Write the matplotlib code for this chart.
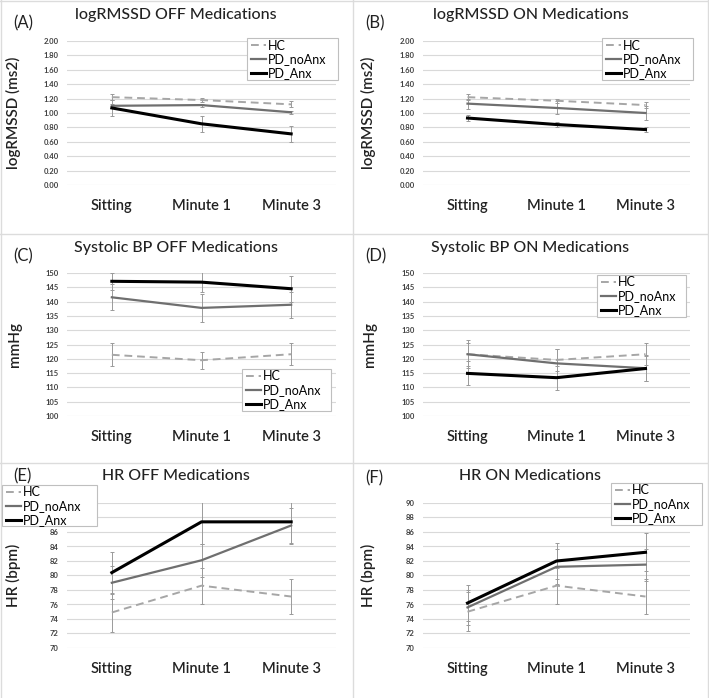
import numpy as np
import matplotlib.pyplot as plt
from matplotlib.lines import Line2D
from matplotlib.patches import Rectangle

plt.rcParams['font.family'] = ['Lato', 'DejaVu Sans']

W, H = 709, 698

categories = ['Sitting', 'Minute 1', 'Minute 3']
groups = ['HC', 'PD_noAnx', 'PD_Anx']

# logRMSSD OFF
rmssd_off_hc = [1.22, 1.18, 1.12]
rmssd_off_hc_err = [0.04, 0.03, 0.04]
rmssd_off_noanx = [1.10, 1.11, 1.01]
rmssd_off_noanx_err = [0.03, 0.02, 0.02]
rmssd_off_anx = [1.07, 0.85, 0.71]
rmssd_off_anx_err = [0.11, 0.11, 0.11]

# logRMSSD ON
rmssd_on_hc = [1.22, 1.17, 1.11]
rmssd_on_hc_err = [0.04, 0.03, 0.04]
rmssd_on_noanx = [1.13, 1.07, 1.00]
rmssd_on_noanx_err = [0.07, 0.09, 0.10]
rmssd_on_anx = [0.93, 0.84, 0.77]
rmssd_on_anx_err = [0.04, 0.04, 0.03]

# Systolic BP OFF
sbp_off_hc = [121.4, 119.5, 121.6]
sbp_off_hc_err = [4.0, 3.0, 3.8]
sbp_off_noanx = [141.5, 137.8, 138.9]
sbp_off_noanx_err = [4.6, 5.0, 4.5]
sbp_off_anx = [147.1, 146.8, 144.5]
sbp_off_anx_err = [3.0, 3.5, 4.5]

# Systolic BP ON
sbp_on_hc = [121.6, 119.6, 121.6]
sbp_on_hc_err = [4.0, 4.0, 3.8]
sbp_on_noanx = [121.6, 118.4, 116.7]
sbp_on_noanx_err = [4.8, 5.0, 4.5]
sbp_on_anx = [114.9, 113.4, 116.6]
sbp_on_anx_err = [4.2, 4.2, 4.5]

# HR OFF
hr_off_hc = [74.9, 78.6, 77.1]
hr_off_hc_err = [2.7, 2.5, 2.4]
hr_off_noanx = [79.0, 82.1, 86.9]
hr_off_noanx_err = [2.3, 2.3, 2.4]
hr_off_anx = [80.4, 87.4, 87.4]
hr_off_anx_err = [2.9, 3.0, 3.0]

# HR ON
hr_on_hc = [75.0, 78.6, 77.1]
hr_on_hc_err = [2.7, 2.5, 2.4]
hr_on_noanx = [75.6, 81.2, 81.5]
hr_on_noanx_err = [2.4, 2.4, 2.2]
hr_on_anx = [76.2, 82.0, 83.2]
hr_on_anx_err = [2.5, 2.5, 2.6]

styles = {
    'HC': dict(color='#a6a6a6', lw=1.4, ls=(0, (4, 2.5))),
    'PD_noAnx': dict(color='#6f6f6f', lw=1.6, ls='-'),
    'PD_Anx': dict(color='#000000', lw=2.2, ls='-'),
}

fig = plt.figure(figsize=(W / 100, H / 100), dpi=100)

# panel separators
grid_col = '#dcdcdc'
fig.add_artist(Line2D([353 / W, 353 / W], [0, 1], color=grid_col, lw=1))
for y in [234, 463]:
    fig.add_artist(Line2D([0, 1], [1 - y / H, 1 - y / H], color=grid_col, lw=1))
fig.add_artist(Line2D([0, 1], [1 - 1 / H, 1 - 1 / H], color=grid_col, lw=1))
fig.add_artist(Line2D([1 / W, 1 / W], [0, 1], color=grid_col, lw=1))
fig.add_artist(Line2D([1 - 1 / W, 1 - 1 / W], [0, 1], color=grid_col, lw=1))


def ftext(x, y, s, **kw):
    fig.text(x / W, 1 - y / H, s, **kw)


def panel(x0, x1, ytop, ybot, ylim, yticks, fmt, series, title, tag, ylabel,
          tag_xy, title_xy, ylabel_x, leg_box, covered=()):
    ax = fig.add_axes([x0 / W, 1 - ybot / H, (x1 - x0) / W, (ybot - ytop) / H])
    xs = np.arange(len(categories)) + 0.5
    for name, vals, errs in series:
        ax.errorbar(xs, vals, yerr=errs, fmt='none', ecolor='#9a9a9a',
                    elinewidth=0.7, capsize=1.5, capthick=0.7, zorder=2)
    handles = []
    for name, vals, errs in series:
        h, = ax.plot(xs, vals, zorder=3, label=name, **styles[name])
        handles.append(h)
    ax.set_xlim(0, 3)
    ax.set_ylim(*ylim)
    ax.set_yticks(yticks)
    # labels sitting under the legend box are not visible anyway
    ax.set_yticklabels(['' if round(v, 2) in covered else fmt.format(v) for v in yticks],
                       fontsize=5.5, fontweight='bold', color='#404040')
    ax.set_xticks(xs)
    ax.set_xticklabels(categories, fontsize=10.5, fontweight='semibold', color='#222222')
    ax.tick_params(axis='both', length=0)
    ax.tick_params(axis='y', pad=6)
    ax.tick_params(axis='x', pad=10)
    ax.grid(axis='y', color='#d9d9d9', lw=0.8)
    ax.set_axisbelow(True)
    for s in ax.spines.values():
        s.set_visible(False)
    ftext(*tag_xy, tag, fontsize=12, ha='left', va='center', color='#222222')
    ftext(*title_xy, title, fontsize=11.5, ha='center', va='center',
          fontweight='medium', color='#222222')
    ftext(ylabel_x, (ytop + ybot) / 2, ylabel, fontsize=11, rotation=90,
          fontweight='semibold', ha='center', va='center', color='#222222')
    # legend box
    bx, by, bw, bh = leg_box
    fig.add_artist(Rectangle((bx / W, 1 - (by + bh) / H), bw / W, bh / H,
                             transform=fig.transFigure, facecolor='white',
                             edgecolor='#bfbfbf', lw=0.8, zorder=4))
    leg = fig.legend(handles=handles, loc='upper left',
                     bbox_to_anchor=((bx + 4) / W, 1 - (by + 1.5) / H),
                     fontsize=9, frameon=False,
                     handlelength=1.2, handletextpad=0.15, borderpad=0.0,
                     labelspacing=0.14, borderaxespad=0)
    leg.set_zorder(5)
    return ax


rm_ticks = np.arange(0, 2.01, 0.2)
bp_ticks = np.arange(100, 151, 5)
hr_ticks = np.arange(70, 91, 2)

panel(67, 336, 41, 185, (0, 2), rm_ticks, '{:.2f}',
      [('HC', rmssd_off_hc, rmssd_off_hc_err),
       ('PD_noAnx', rmssd_off_noanx, rmssd_off_noanx_err),
       ('PD_Anx', rmssd_off_anx, rmssd_off_anx_err)],
      'logRMSSD OFF Medications', '(A)', 'logRMSSD (ms2)',
      (13, 23), (176, 15), 13, (247, 38, 91, 42))

panel(423, 690, 41, 185, (0, 2), rm_ticks, '{:.2f}',
      [('HC', rmssd_on_hc, rmssd_on_hc_err),
       ('PD_noAnx', rmssd_on_noanx, rmssd_on_noanx_err),
       ('PD_Anx', rmssd_on_anx, rmssd_on_anx_err)],
      'logRMSSD ON Medications', '(B)', 'logRMSSD (ms2)',
      (365, 23), (531, 15), 368, (602, 38, 91, 42))

panel(67, 336, 273, 416, (100, 150), bp_ticks, '{:.0f}',
      [('HC', sbp_off_hc, sbp_off_hc_err),
       ('PD_noAnx', sbp_off_noanx, sbp_off_noanx_err),
       ('PD_Anx', sbp_off_anx, sbp_off_anx_err)],
      'Systolic BP OFF Medications', '(C)', 'mmHg',
      (13, 256), (176, 248), 15, (242, 369, 89, 42))

panel(423, 690, 273, 416, (100, 150), bp_ticks, '{:.0f}',
      [('HC', sbp_on_hc, sbp_on_hc_err),
       ('PD_noAnx', sbp_on_noanx, sbp_on_noanx_err),
       ('PD_Anx', sbp_on_anx, sbp_on_anx_err)],
      'Systolic BP ON Medications', '(D)', 'mmHg',
      (365, 256), (530, 248), 370, (597, 275, 89, 42))

panel(67, 336, 503, 648, (70, 90), hr_ticks, '{:.0f}',
      [('HC', hr_off_hc, hr_off_hc_err),
       ('PD_noAnx', hr_off_noanx, hr_off_noanx_err),
       ('PD_Anx', hr_off_anx, hr_off_anx_err)],
      'HR OFF Medications', '(E)', 'HR (bpm)',
      (13, 476), (176, 476), 13, (2, 485, 95, 41), covered=(88, 90))

panel(423, 690, 503, 648, (70, 90), hr_ticks, '{:.0f}',
      [('HC', hr_on_hc, hr_on_hc_err),
       ('PD_noAnx', hr_on_noanx, hr_on_noanx_err),
       ('PD_Anx', hr_on_anx, hr_on_anx_err)],
      'HR ON Medications', '(F)', 'HR (bpm)',
      (365, 478), (530, 476), 368, (611, 483, 91, 42))

fig.savefig('out.png', dpi=100)
